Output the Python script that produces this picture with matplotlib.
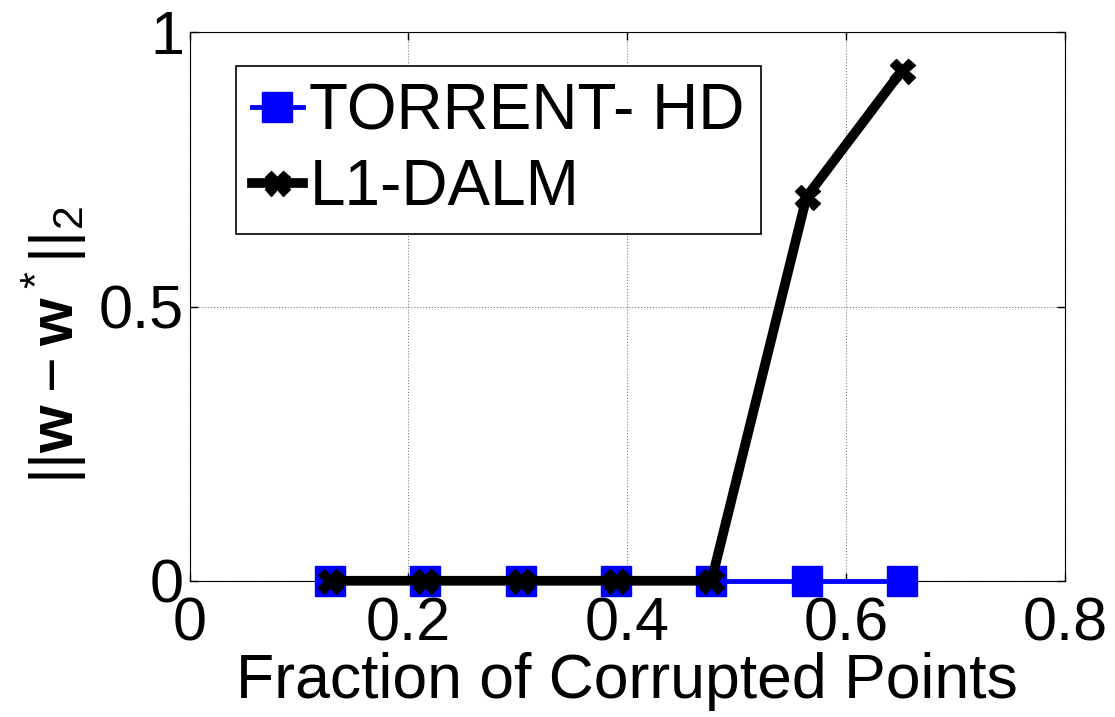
import numpy as np
import matplotlib.pyplot as plt

frac = [0.128, 0.215, 0.303, 0.390, 0.477, 0.564, 0.651]
torrent_hd = [0, 0, 0, 0, 0, 0, 0]
l1_dalm = [0, 0, 0, 0, 0, 0.70, 0.93]

plt.rcParams['font.family'] = ['Liberation Sans', 'DejaVu Sans']
plt.rcParams['mathtext.fontset'] = 'custom'
plt.rcParams['mathtext.rm'] = 'Liberation Sans'
plt.rcParams['mathtext.bf'] = 'Liberation Sans:bold'

fig = plt.figure(figsize=(11.15, 7.17), dpi=100)
ax = fig.add_axes([0.170, 0.190, 0.785, 0.765])

ax.plot(frac, torrent_hd, color='blue', lw=3.5, marker='s', ms=21,
        mfc='blue', mec='blue', label='TORRENT- HD', clip_on=False, zorder=3)
ax.plot(frac, l1_dalm, color='black', lw=7, marker='X', ms=18,
        mfc='black', mec='black', label='L1-DALM', clip_on=False, zorder=4)

ax.set_xlim(0, 0.8)
ax.set_ylim(0, 1)
ax.set_xticks([0, 0.2, 0.4, 0.6, 0.8])
ax.set_xticklabels(['0', '0.2', '0.4', '0.6', '0.8'])
ax.set_yticks([0, 0.5, 1])
ax.set_yticklabels(['0', '0.5', '1'])
ax.tick_params(direction='in', labelsize=44, length=6, width=1,
               top=True, right=True)
ax.tick_params(axis='x', pad=11)
ax.tick_params(axis='y', pad=4)
ax.grid(True, linestyle=':', color='gray', lw=0.8)

ax.set_xlabel('Fraction of Corrupted Points', fontsize=45, labelpad=-1)
ax.set_ylabel(r'$||\mathbf{w} - \mathbf{w}^*||_2$', fontsize=44)
ax.yaxis.set_label_coords(-0.115, 0.43)

leg = ax.legend(loc='upper left', bbox_to_anchor=(0.053, 0.938), fontsize=46,
                fancybox=False, edgecolor='black', framealpha=1,
                handlelength=0.8, handletextpad=0.1, borderpad=0.25,
                labelspacing=0.25, borderaxespad=0)
leg.get_frame().set_linewidth(1.2)

fig.savefig('out.png', dpi=100)
